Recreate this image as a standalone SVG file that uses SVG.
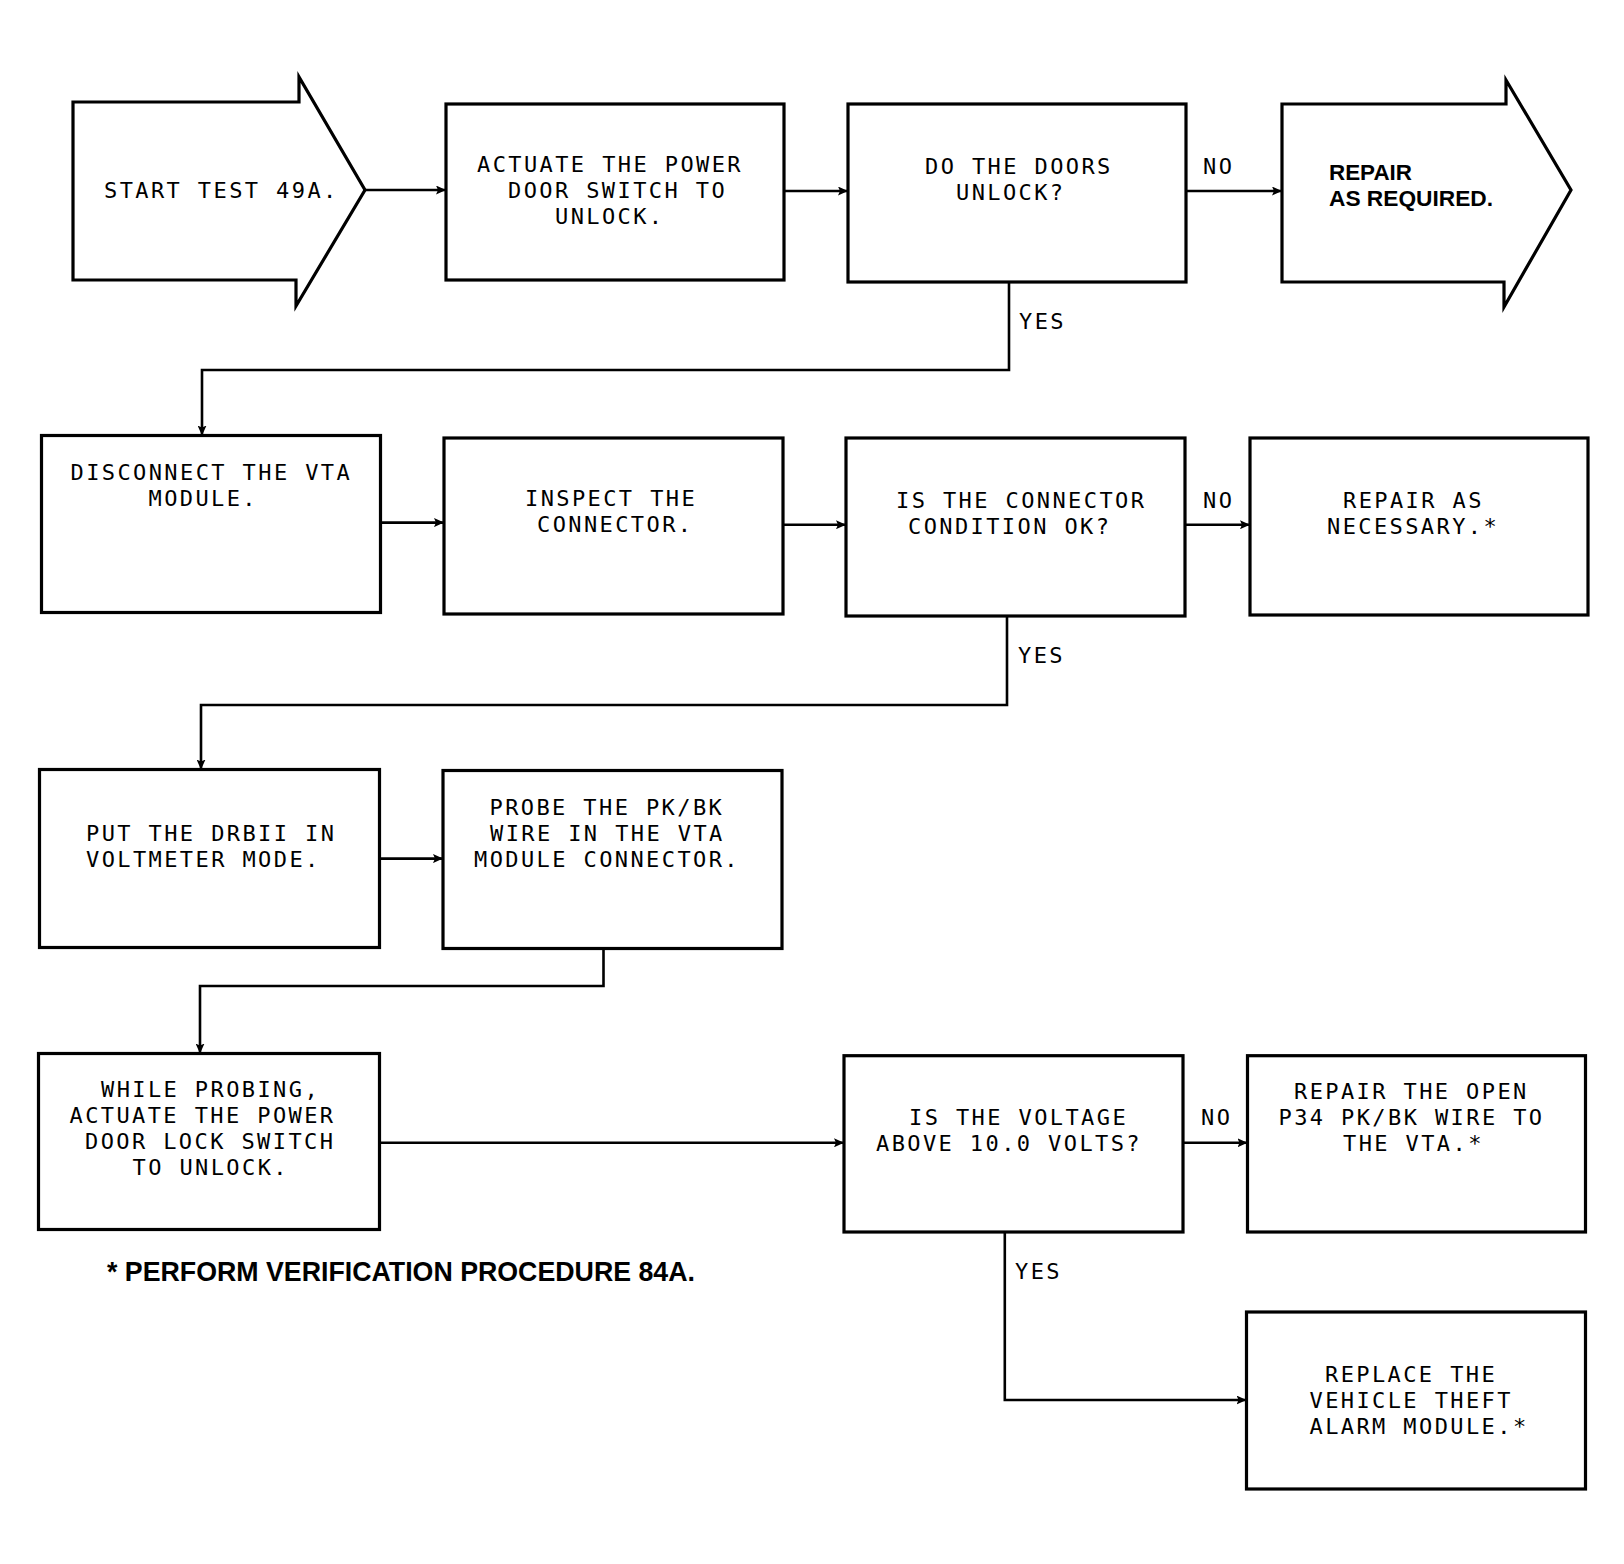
<svg xmlns="http://www.w3.org/2000/svg" width="1624" height="1564" viewBox="0 0 1624 1564">
<style>
.box{fill:#fff;stroke:#000;stroke-width:3.2}
.t{font-family:"DejaVu Sans Mono","Liberation Mono",monospace;font-size:22px;letter-spacing:2.4px;fill:#000}
.b{font-family:"Liberation Sans",Arial,sans-serif;font-weight:bold;fill:#000}
.c{fill:none;stroke:#000;stroke-width:2.6}
</style>
<defs>
<marker id="ah" markerUnits="userSpaceOnUse" markerWidth="11" markerHeight="9" refX="10" refY="4.5" orient="auto">
<path d="M0,0 L10,4.5 L0,9 L2,4.5 z" fill="#000"/>
</marker>
</defs>
<rect width="1624" height="1564" fill="#fff"/>
<g id="connectors">
<path class="c" d="M365,190 L446,190" marker-end="url(#ah)"/>
<path class="c" d="M784,191 L848,191" marker-end="url(#ah)"/>
<path class="c" d="M1186,191 L1282,191" marker-end="url(#ah)"/>
<path class="c" d="M1009,282 L1009,370 L202,370 L202,435.5" marker-end="url(#ah)"/>
<path class="c" d="M380.6,522.6 L444,522.6" marker-end="url(#ah)"/>
<path class="c" d="M783,524.7 L846,524.7" marker-end="url(#ah)"/>
<path class="c" d="M1185,524.7 L1250,524.7" marker-end="url(#ah)"/>
<path class="c" d="M1007,616 L1007,705 L201,705 L201,769.5" marker-end="url(#ah)"/>
<path class="c" d="M379.5,858.6 L443,858.6" marker-end="url(#ah)"/>
<path class="c" d="M603.5,949 L603.5,986 L200,986 L200,1053.5" marker-end="url(#ah)"/>
<path class="c" d="M379.5,1142.8 L844,1142.8" marker-end="url(#ah)"/>
<path class="c" d="M1183,1142.8 L1247.5,1142.8" marker-end="url(#ah)"/>
<path class="c" d="M1004.8,1232 L1004.8,1400 L1246.5,1400" marker-end="url(#ah)"/>
<text class="t" x="1203" y="174">NO</text>
<text class="t" x="1019" y="328.5">YES</text>
<text class="t" x="1203" y="507.5">NO</text>
<text class="t" x="1018" y="662.5">YES</text>
<text class="t" x="1201" y="1124.5">NO</text>
<text class="t" x="1015" y="1278.5">YES</text>
</g>
<g id="start">
<path class="box" d="M73,102 L299,102 L299,77 L365,190 L296,306 L296,280 L73,280 Z"/>
<text class="t" x="104" y="197.5">START TEST 49A.</text>
</g>
<g id="actuate">
<rect class="box" x="446" y="104" width="338" height="176"/>
<text class="t" x="477" y="171.5">ACTUATE THE POWER</text>
<text class="t" x="508" y="197.5">DOOR SWITCH TO</text>
<text class="t" x="555" y="223.5">UNLOCK.</text>
</g>
<g id="doors-unlock">
<rect class="box" x="848" y="104" width="338" height="178"/>
<text class="t" x="925" y="174">DO THE DOORS</text>
<text class="t" x="956" y="199.5">UNLOCK?</text>
</g>
<g id="repair-required">
<path class="box" d="M1282,104 L1506,104 L1506,80 L1571,190 L1504,307 L1504,282 L1282,282 Z"/>
<text class="b" x="1329" y="180" font-size="22" textLength="83" lengthAdjust="spacingAndGlyphs">REPAIR</text>
<text class="b" x="1329" y="206" font-size="22" textLength="164" lengthAdjust="spacingAndGlyphs">AS REQUIRED.</text>
</g>
<g id="disconnect">
<rect class="box" x="41.5" y="435.5" width="339" height="177"/>
<text class="t" x="70.5" y="479.5">DISCONNECT THE VTA</text>
<text class="t" x="148.5" y="505.5">MODULE.</text>
</g>
<g id="inspect">
<rect class="box" x="444" y="438" width="339" height="176"/>
<text class="t" x="525" y="505.5">INSPECT THE</text>
<text class="t" x="537" y="531.5">CONNECTOR.</text>
</g>
<g id="connector-ok">
<rect class="box" x="846" y="438" width="339" height="178"/>
<text class="t" x="896" y="507.5">IS THE CONNECTOR</text>
<text class="t" x="908" y="533.5">CONDITION OK?</text>
</g>
<g id="repair-necessary">
<rect class="box" x="1250" y="438" width="338" height="177"/>
<text class="t" x="1343" y="507.5">REPAIR AS</text>
<text class="t" x="1327" y="533.5">NECESSARY.*</text>
</g>
<g id="drbii">
<rect class="box" x="39.5" y="769.5" width="340" height="178"/>
<text class="t" x="86" y="840.5">PUT THE DRBII IN</text>
<text class="t" x="86" y="866.5">VOLTMETER MODE.</text>
</g>
<g id="probe">
<rect class="box" x="443" y="770.5" width="339" height="178"/>
<text class="t" x="489.5" y="814.5">PROBE THE PK/BK</text>
<text class="t" x="490" y="840.5">WIRE IN THE VTA</text>
<text class="t" x="474" y="866.5">MODULE CONNECTOR.</text>
</g>
<g id="while-probing">
<rect class="box" x="38.5" y="1053.5" width="341" height="176"/>
<text class="t" x="101" y="1096.5">WHILE PROBING,</text>
<text class="t" x="69.5" y="1122.5">ACTUATE THE POWER</text>
<text class="t" x="85" y="1148.5">DOOR LOCK SWITCH</text>
<text class="t" x="132.5" y="1174.5">TO UNLOCK.</text>
</g>
<g id="voltage">
<rect class="box" x="844" y="1055.7" width="339" height="176.3"/>
<text class="t" x="909" y="1124.5">IS THE VOLTAGE</text>
<text class="t" x="876" y="1150.5">ABOVE 10.0 VOLTS?</text>
</g>
<g id="repair-open">
<rect class="box" x="1247.5" y="1055.7" width="338" height="176.3"/>
<text class="t" x="1294" y="1098.5">REPAIR THE OPEN</text>
<text class="t" x="1278.5" y="1124.5">P34 PK/BK WIRE TO</text>
<text class="t" x="1343" y="1150.5">THE VTA.*</text>
</g>
<g id="replace">
<rect class="box" x="1246.5" y="1312" width="339" height="177"/>
<text class="t" x="1325" y="1382">REPLACE THE</text>
<text class="t" x="1309.5" y="1408">VEHICLE THEFT</text>
<text class="t" x="1309.5" y="1434">ALARM MODULE.*</text>
</g>
<g id="footnote">
<text class="b" x="107" y="1281" font-size="28" textLength="588" lengthAdjust="spacingAndGlyphs">* PERFORM VERIFICATION PROCEDURE 84A.</text>
</g>
</svg>
